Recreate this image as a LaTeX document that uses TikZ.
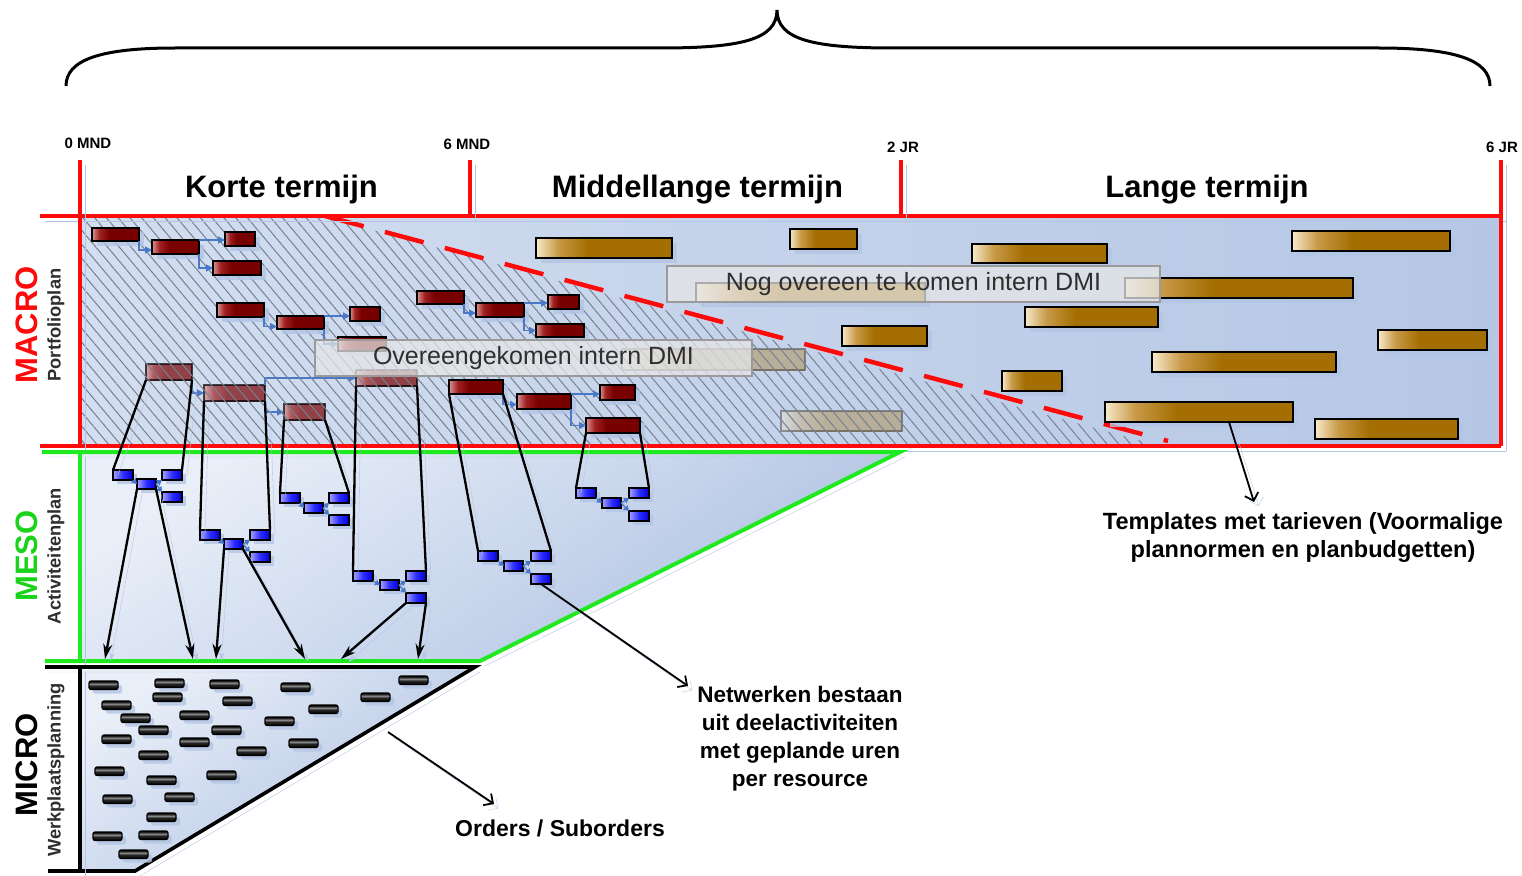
\documentclass[tikz,border=0pt]{standalone}
\usepackage{fontspec}
\setmainfont{Liberation Sans}
\usetikzlibrary{arrows.meta,patterns.meta,shadows,calc}

\definecolor{lineRed}{HTML}{FF0A0A}
\definecolor{lineGreen}{HTML}{1FEA1F}
\definecolor{shadowBlue}{HTML}{B3C5E5}
\definecolor{connBlue}{HTML}{4A78C8}
\definecolor{hatchGray}{HTML}{778090}
\definecolor{macroL}{HTML}{D3DEF0}
\definecolor{macroR}{HTML}{B5C7E5}
\definecolor{paleBlue}{HTML}{E9EFF8}
\definecolor{deepBlue}{HTML}{AEC1E2}
\definecolor{redHi}{HTML}{D89494}
\definecolor{redMid}{HTML}{A02020}
\definecolor{redLo}{HTML}{780000}
\definecolor{goldHi}{HTML}{F7EACB}
\definecolor{goldMid}{HTML}{C89A48}
\definecolor{goldLo}{HTML}{A46E02}
\definecolor{blueHi}{HTML}{A4A4FF}
\definecolor{blueMid}{HTML}{2E2EFF}
\definecolor{blueLo}{HTML}{0000D8}
\definecolor{pillDark}{HTML}{262626}
\definecolor{pillMid}{HTML}{8C8C8C}
\definecolor{labelText}{HTML}{2E2E2E}
\definecolor{boxFill}{HTML}{E6E6E6}
\definecolor{boxLine}{HTML}{9A9A9A}

% shadings: the path's bounding box spans 25bp..75bp
\pgfdeclarehorizontalshading{goldsh}{100bp}{color(0bp)=(goldHi); color(25bp)=(goldHi);
  color(33bp)=(goldMid); color(44bp)=(goldLo); color(100bp)=(goldLo)}
\pgfdeclarehorizontalshading{redsh}{100bp}{color(0bp)=(redHi); color(25bp)=(redHi);
  color(33bp)=(redMid); color(44bp)=(redLo); color(100bp)=(redLo)}
\pgfdeclareverticalshading{pillsh}{100bp}{color(0bp)=(black); color(25bp)=(black);
  color(47bp)=(pillDark); color(58bp)=(pillMid); color(68bp)=(pillDark); color(75bp)=(black);
  color(100bp)=(black)}

% bar node from its top-left and bottom-right corners (in px)
\newcommand\mkbar[6]{%
  \node[#1, minimum width={(#5-#3)*1pt}, minimum height={(#6-#4)*1pt}] (#2) at (#3,#4) {};}

\tikzset{
  lshadow/.style={preaction={draw=shadowBlue, transform canvas={xshift=5pt,yshift=-5pt}}},
  barbase/.style={draw=black, line width=2.6pt, inner sep=0pt, outer sep=0pt, anchor=north west},
  bshadow/.style={drop shadow={shadow xshift=5pt, shadow yshift=-5pt, fill=shadowBlue, opacity=0.8}},
  redbar/.style={barbase, bshadow, shading=redsh},
  goldbar/.style={barbase, bshadow, shading=goldsh},
  fadedred/.style={barbase, shading=redsh, opacity=0.7},
  fadedgold/.style={barbase, shading=goldsh, opacity=0.35},
  bluebar/.style={draw=black, line width=1.5pt, inner sep=0pt, outer sep=0pt, anchor=north west,
    left color=blueHi, right color=blueLo, middle color=blueMid,
    drop shadow={shadow xshift=4pt, shadow yshift=-4pt, fill=shadowBlue, opacity=0.8}},
  microbar/.style={draw=black, line width=1.2pt, rounded corners=2pt, inner sep=0pt, outer sep=0pt,
    anchor=north west, minimum width=29pt, minimum height=8.5pt, shading=pillsh,
    drop shadow={shadow xshift=4pt, shadow yshift=-4pt, fill=shadowBlue, opacity=0.8}},
  redline/.style={draw=lineRed, line width=3.6pt, lshadow},
  greenline/.style={draw=lineGreen, line width=4pt, lshadow},
  blackline/.style={draw=black, line width=3.6pt, lshadow},
  funnel/.style={draw=black, line width=2.3pt, lshadow},
  downarrow/.style={draw=black, line width=2.3pt, -{Stealth[length=15pt,width=9pt]}, lshadow},
  annarrow/.style={draw=black, line width=1.8pt, -{Straight Barb[length=7pt,width=14pt]}, lshadow},
  bconn/.style={draw=connBlue, line width=1.3pt, -{Triangle[length=7pt,width=7pt]}},
  bsmall/.style={draw=connBlue, line width=1.2pt, -{Triangle[length=5pt,width=6pt]}},
  dmibox/.style={draw=boxLine, line width=1.5pt, fill=boxFill, fill opacity=0.75, text opacity=1,
    text=labelText, font=\fontsize{25}{30}\selectfont, inner sep=0pt},
  heading/.style={font=\fontsize{31}{36}\selectfont\bfseries, anchor=base, inner sep=0pt},
  tick/.style={font=\fontsize{15}{18}\selectfont\bfseries, anchor=base, inner sep=0pt},
  level/.style={rotate=90, font=\fontsize{31}{36}\selectfont\bfseries, inner sep=0pt},
  sublevel/.style={rotate=90, font=\fontsize{18.3}{22}\selectfont\bfseries, text=labelText, inner sep=0pt},
  note/.style={align=center, font=\fontsize{22.5}{28}\selectfont\bfseries, inner sep=0pt},
}

\begin{document}
\begin{tikzpicture}[x=1pt,y=-1pt]
\useasboundingbox (0,0) rectangle (1522,875);

% horizon brace
\draw[line width=3pt] (66,86) .. controls (66,60) and (100,48) .. (175,48) -- (660,48)
  .. controls (740,48) and (777,40) .. (777,10)
  .. controls (777,40) and (814,48) .. (893,48) -- (1379,48)
  .. controls (1455,48) and (1490,60) .. (1490,86);

% planning levels
\fill[left color=macroL, right color=macroR] (80,216) rectangle (1501,446);
\fill[top color=paleBlue, bottom color=deepBlue, shading angle=35]
  (80,452) -- (900,452) -- (480,661) -- (80,661) -- cycle;
\fill[top color=paleBlue, bottom color=deepBlue, shading angle=35]
  (80,667) -- (475,667) -- (135,871) -- (80,871) -- cycle;

% agreed part of the portfolio (below the hatch)
\mkbar{fadedred}{fA}{146}{364}{192}{380}
\mkbar{fadedred}{fB}{204}{385}{265}{401}
\mkbar{fadedred}{fC}{284}{404}{325}{420}
\mkbar{fadedred}{fD}{356}{370}{417}{386}
\mkbar{fadedgold}{t1}{622}{349}{805}{370}
\mkbar{fadedgold}{t2}{781}{411}{902}{431}
\draw[bconn] (fA.south east) |- (fB.west);
\draw[bconn] (fB.south east) |- (fC.west);
\draw[bconn] (fB.north east) |- (fD.west);

\fill[pattern={Lines[angle=-50,distance=9pt,line width=1pt]}, pattern color=hatchGray]
  (80,216) -- (322,216) -- (1160,446) -- (80,446) -- cycle;
\draw[draw=lineRed, line width=4.5pt, dash pattern=on 40pt off 22pt] (325,216) -- (1168,441);

% portfolio projects
\mkbar{redbar}{r1}{92}{228}{139}{241}
\mkbar{redbar}{r2}{152}{240}{199}{254}
\mkbar{redbar}{r3}{225}{232}{255}{246}
\mkbar{redbar}{r4}{213}{261}{261}{275}
\mkbar{redbar}{r5}{217}{303}{264}{317}
\mkbar{redbar}{r6}{277}{316}{324}{329}
\mkbar{redbar}{r7}{350}{307}{380}{321}
\mkbar{redbar}{r8}{338}{337}{386}{351}
\mkbar{redbar}{r9}{417}{291}{464}{304}
\mkbar{redbar}{r10}{476}{303}{524}{317}
\mkbar{redbar}{r11}{548}{295}{579}{309}
\mkbar{redbar}{r12}{536}{324}{584}{337}
\mkbar{redbar}{r13}{449}{380}{503}{394}
\mkbar{redbar}{r14}{517}{394}{571}{409}
\mkbar{redbar}{r15}{600}{385}{635}{400}
\mkbar{redbar}{r16}{586}{418}{640}{433}

\mkbar{goldbar}{g1}{536}{238}{672}{258}
\mkbar{goldbar}{g2}{790}{229}{857}{249}
\mkbar{goldbar}{g3}{696}{283}{925}{302}
\mkbar{goldbar}{g4}{842}{326}{927}{346}
\mkbar{goldbar}{g5}{972}{244}{1107}{263}
\mkbar{goldbar}{g6}{1292}{231}{1450}{251}
\mkbar{goldbar}{g7}{1125}{278}{1353}{298}
\mkbar{goldbar}{g8}{1025}{307}{1158}{327}
\mkbar{goldbar}{g9}{1378}{330}{1487}{350}
\mkbar{goldbar}{g10}{1152}{352}{1336}{372}
\mkbar{goldbar}{g11}{1002}{371}{1062}{391}
\mkbar{goldbar}{g12}{1105}{402}{1293}{422}
\mkbar{goldbar}{g13}{1315}{419}{1458}{439}

\draw[bconn] (r1.south east) |- ([yshift=-3pt]r2.west);
\draw[bconn] (r2.north east) -- (r2.north east -| r3.west);
\draw[bconn] (r2.south east) |- (r4.west);
\draw[bconn] (r5.south east) |- ([yshift=-4pt]r6.west);
\draw[bconn] (r6.north east) -- (r6.north east -| r7.west);
\draw[bconn] (r6.south east) |- (r8.west);
\draw[bconn] (r9.south east) |- ([yshift=-3pt]r10.west);
\draw[bconn] (r10.north east) -- (r10.north east -| r11.west);
\draw[bconn] (r10.south east) |- (r12.west);
\draw[bconn] (r13.south east) |- ([yshift=-3pt]r14.west);
\draw[bconn] (r14.north east) -- (r14.north east -| r15.west);
\draw[bconn] (r14.south east) |- (r16.west);

% agreement labels
\node[dmibox, minimum width=437pt, minimum height=36pt] (dmiA) at (533.5,358) {Overeengekomen intern DMI};
\node[dmibox, minimum width=493pt, minimum height=36pt] (dmiB) at (913.5,284) {Nog overeen te komen intern DMI};

% level borders
\draw[redline] (40,216) -- (1501,216);
\draw[redline] (40,446) -- (1501,446);
\draw[redline] (80,160) -- (80,446);
\draw[redline] (1501,160) -- (1501,446);
\draw[redline] (470,160) -- (470,216);
\draw[redline] (901,160) -- (901,216);
\draw[greenline] (42,452) -- (900,452) -- (480,661) -- (45,661);
\draw[greenline] (80,452) -- (80,661);
\draw[blackline] (45,667) -- (475,667) -- (135,871) -- (48,871);
\draw[blackline] (80,667) -- (80,871);

% activity networks
\foreach \g/\ax/\ay/\bx/\by/\cx/\cy/\dy in {
  1/113/470/137/479/162/470/492,
  2/200/530/224/539/250/530/552,
  3/280/493/304/503/329/493/515,
  4/353/571/380/580/406/571/593,
  5/478/551/504/561/531/551/574,
  6/576/488/602/498/629/488/511}{
  \node[bluebar, minimum width=20pt, minimum height=10pt] (m\g a) at (\ax,\ay) {};
  \node[bluebar, minimum width=19pt, minimum height=10pt] (m\g b) at (\bx,\by) {};
  \node[bluebar, minimum width=20pt, minimum height=10pt] (m\g c) at (\cx,\cy) {};
  \node[bluebar, minimum width=20pt, minimum height=10pt] (m\g d) at (\cx,\dy) {};
  \draw[bsmall] (m\g a.south east) -- (m\g b.west);
  \draw[bsmall] (m\g b.east) -- (m\g c.south west);
  \draw[bsmall] (m\g b.east) -- (m\g d.north west);
}

\draw[funnel] (fA.south west) -- (m1a.north west);
\draw[funnel] (fA.south east) -- (m1c.north east);
\draw[funnel] (fB.south west) -- (m2a.north west);
\draw[funnel] (fB.south east) -- (m2c.north east);
\draw[funnel] (fC.south west) -- (m3a.north west);
\draw[funnel] (fC.south east) -- (m3c.north east);
\draw[funnel] (fD.south west) -- (m4a.north west);
\draw[funnel] (fD.south east) -- (m4c.north east);
\draw[funnel] (r13.south west) -- (m5a.north west);
\draw[funnel] (r13.south east) -- (m5c.north east);
\draw[funnel] (r16.south west) -- (m6a.north west);
\draw[funnel] (r16.south east) -- (m6c.north east);

% workshop orders
\foreach \n/\x/\y in {1/89/681, 2/155/679, 3/210/680, 4/281/683, 5/399/676, 6/153/693,
  7/223/697, 8/361/693, 9/102/701, 10/309/705, 11/121/714, 12/180/711, 13/265/717,
  14/139/726, 15/212/726, 16/102/735, 17/180/738, 18/289/739, 19/237/747, 20/139/751,
  21/95/767, 22/207/771, 23/147/776, 24/165/793, 25/103/795, 26/147/813, 27/93/832,
  28/139/831, 29/119/850}{
  \node[microbar] (k\n) at (\x,\y) {};
}

\coordinate (d1) at (105,659);
\coordinate (d2) at (193,659);
\coordinate (d3) at (216,659);
\coordinate (d4) at (305,659);
\coordinate (d5) at (341,659);
\coordinate (d6) at (418,659);
\draw[downarrow] (m1b.south west) -- (d1);
\draw[downarrow] (m1b.south east) -- (d2);
\draw[downarrow] (m2b.south west) -- (d3);
\draw[downarrow] (m2b.south east) -- (d4);
\draw[downarrow] (m4d.south west) -- (d5);
\draw[downarrow] (m4d.south east) -- (d6);

% time axis
\node[tick] (t0) at (88,148) {0 MND};
\node[tick] (t6m) at (467,149) {6 MND};
\node[tick] (t2j) at (903,152) {2 JR};
\node[tick] (t6j) at (1502,152) {6 JR};
\node[heading] (kort) at (281.5,197) {Korte termijn};
\node[heading] (middel) at (697.5,197) {Middellange termijn};
\node[heading] (lang) at (1207,197) {Lange termijn};

% level names
\node[level, text=lineRed] (macro) at (27,325) {MACRO};
\node[sublevel] (portf) at (56,325) {Portfolioplan};
\node[level, text=lineGreen!90!black] (meso) at (27,556) {MESO};
\node[sublevel] (activ) at (56,556) {Activiteitenplan};
\node[level] (micro) at (27,765) {MICRO};
\node[sublevel] (werkp) at (56,770) {Werkplaatsplanning};

% notes
\node[note, font=\fontsize{23.5}{28}\selectfont\bfseries] (tplTxt) at (1303,537) {Templates met tarieven (Voormalige\\plannormen en planbudgetten)};
\node[note] (netTxt) at (800,739) {Netwerken bestaan\\uit deelactiviteiten\\met geplande uren\\per resource};
\node[note, font=\fontsize{23}{28}\selectfont\bfseries] (ordTxt) at (560,828) {Orders / Suborders};

\coordinate (tplEnd) at (1254,502);
\coordinate (netEnd) at (688,686);
\coordinate (ordStart) at (388,732);
\coordinate (ordEnd) at (494,804);
\draw[annarrow] ($(g12.south)+(30,0)$) -- (tplEnd);
\draw[annarrow] (m5d.south) -- (netEnd);
\draw[annarrow] (ordStart) -- (ordEnd);
\end{tikzpicture}
\end{document}
